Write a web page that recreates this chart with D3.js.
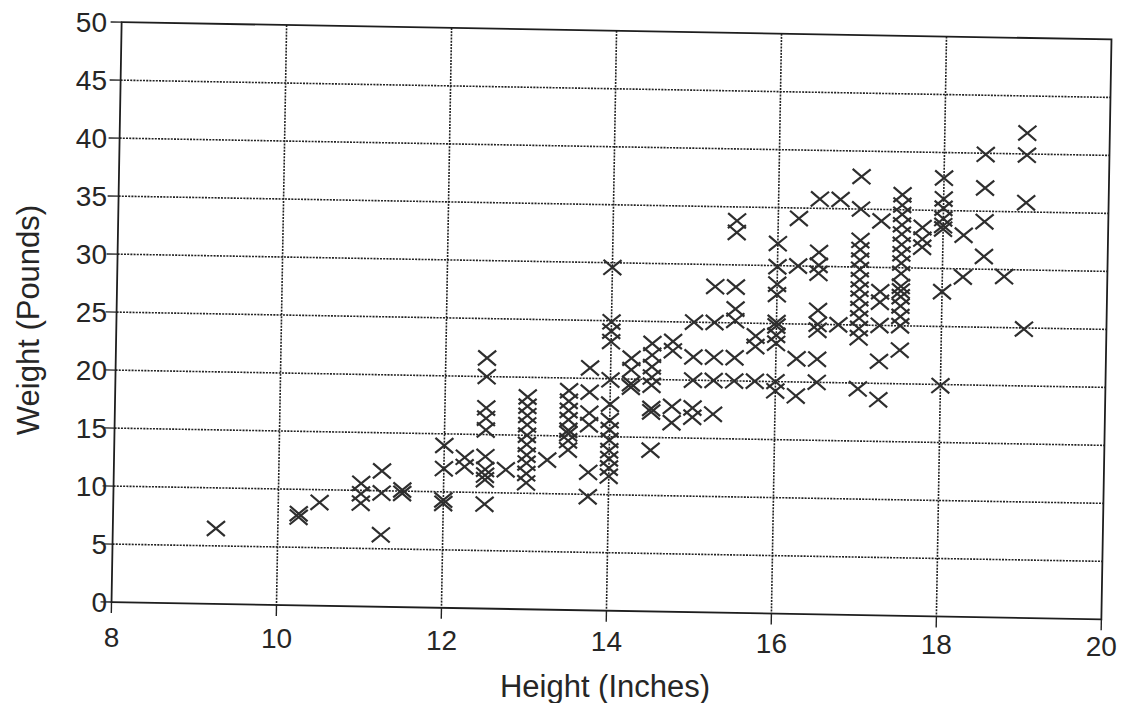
<!DOCTYPE html>
<html>
<head>
<meta charset="utf-8">
<script src="https://cdn.jsdelivr.net/npm/d3@7"></script>
<style>
  body { margin: 0; background: #fff; }
  text { font-family: "Liberation Sans", Arial, sans-serif; fill: #262626; }
</style>
</head>
<body>
<svg id="chart" width="1125" height="703"></svg>
<script>
// heights (inches) and the weights (pounds) read at each height
var heightCols = [9.25, 10.25, 10.5, 11.0, 11.25, 11.5, 12.0, 12.25, 12.5, 12.75,
    13.0, 13.25, 13.5, 13.75, 14.0, 14.25, 14.5, 14.75, 15.0, 15.25,
    15.5, 15.75, 16.0, 16.25, 16.5, 16.75, 17.0, 17.25, 17.5, 17.75,
    18.0, 18.25, 18.5, 18.75, 19.0];
var weightCols = [
    [6.5],
    [7.6, 7.9],
    [8.9],
    [10.6, 9.7, 8.9],
    [11.7, 9.8, 6.2],
    [9.8, 10.1],
    [14.0, 12.0, 9.0, 9.3],
    [13.0, 12.2],
    [21.6, 20.0, 17.3, 16.4, 15.4, 13.1, 12.0, 11.5, 11.1, 9.0],
    [12.0],
    [18.3, 17.5, 16.7, 15.9, 15.0, 14.2, 13.3, 12.6, 11.7, 10.9],
    [12.9],
    [18.9, 18.0, 17.2, 16.4, 15.5, 15.2, 14.6, 13.8],
    [20.9, 18.8, 17.0, 16.0, 11.9, 9.8],
    [29.6, 24.9, 24.1, 23.2, 19.9, 17.8, 16.4, 15.6, 14.7, 13.8, 13.1, 12.3, 11.6],
    [21.8, 20.8, 19.6, 19.3],
    [23.1, 22.1, 21.1, 20.2, 19.5, 17.5, 17.2, 13.9],
    [23.3, 22.5, 17.7, 16.3],
    [25.0, 22.0, 20.0, 17.6, 16.8],
    [28.1, 25.0, 22.0, 20.0, 17.1],
    [33.8, 32.8, 28.1, 26.2, 25.2, 22.0, 20.0],
    [23.9, 23.0, 20.0],
    [31.9, 29.9, 28.4, 27.5, 25.1, 24.8, 24.0, 23.3, 20.0, 19.2],
    [34.1, 30.0, 22.0, 18.8],
    [35.8, 31.2, 30.1, 29.4, 26.2, 25.0, 24.5, 22.0, 20.0],
    [35.8, 25.0],
    [37.8, 35.0, 32.3, 31.5, 30.6, 29.8, 28.9, 28.1, 27.3, 26.4, 25.6, 24.7, 23.9, 19.5],
    [34.0, 27.9, 27.0, 25.0, 21.9, 18.6],
    [36.3, 35.4, 34.6, 33.7, 32.9, 32.0, 31.2, 30.4, 29.5, 28.4, 28.0, 27.5, 26.7, 25.8, 25.0, 22.9],
    [33.5, 32.5, 31.8],
    [37.8, 36.0, 35.2, 34.3, 33.7, 33.4, 28.0, 19.9],
    [32.9, 29.3],
    [39.9, 37.0, 34.1, 31.1],
    [29.4],
    [41.8, 39.9, 35.8, 24.9]
];
var xTicks = [8, 10, 12, 14, 16, 18, 20];
var yTicks = [0, 5, 10, 15, 20, 25, 30, 35, 40, 45, 50];

var points = d3.merge(heightCols.map(function (h, i) {
    return weightCols[i].map(function (w) { return { h: h, w: w }; });
}));

// plot box (before the scan tilt)
var W = 990, H = 580;
var cx = 611.5, cy = 320.75;
var left = cx - W / 2, top_ = cy - H / 2, bottom = top_ + H;
var tilt = 1.0; // the scanned page is turned about one degree

var x = d3.scaleLinear().domain([8, 20]).range([left, left + W]);
var y = d3.scaleLinear().domain([0, 50]).range([bottom, top_]);

function rot(p) {
    var a = tilt * Math.PI / 180;
    var dx = p[0] - cx, dy = p[1] - cy;
    return [cx + dx * Math.cos(a) - dy * Math.sin(a),
            cy + dx * Math.sin(a) + dy * Math.cos(a)];
}

var svg = d3.select("#chart");
svg.append("rect").attr("width", 1125).attr("height", 703).attr("fill", "#fff");

var plot = svg.append("g")
    .attr("transform", "rotate(" + tilt + "," + cx + "," + cy + ")");

// dotted grid
plot.selectAll(".vgrid")
    .data(xTicks.slice(1, -1))
    .enter().append("line")
    .attr("class", "vgrid")
    .attr("x1", function (d) { return x(d); })
    .attr("x2", function (d) { return x(d); })
    .attr("y1", top_).attr("y2", bottom)
    .attr("stroke", "#222").attr("stroke-width", 1.6)
    .attr("stroke-dasharray", "2,1.2");

plot.selectAll(".hgrid")
    .data(yTicks.slice(1, -1))
    .enter().append("line")
    .attr("class", "hgrid")
    .attr("y1", function (d) { return y(d); })
    .attr("y2", function (d) { return y(d); })
    .attr("x1", left).attr("x2", left + W)
    .attr("stroke", "#222").attr("stroke-width", 1.6)
    .attr("stroke-dasharray", "2,1.2");

// frame
plot.append("rect")
    .attr("x", left).attr("y", top_)
    .attr("width", W).attr("height", H)
    .attr("fill", "none").attr("stroke", "#1e1e1e").attr("stroke-width", 1.8);

// tick marks
plot.selectAll(".ytick")
    .data(yTicks)
    .enter().append("line")
    .attr("x1", left - 11).attr("x2", left)
    .attr("y1", function (d) { return y(d); })
    .attr("y2", function (d) { return y(d); })
    .attr("stroke", "#222").attr("stroke-width", 1.4);

plot.selectAll(".xtick")
    .data(xTicks)
    .enter().append("line")
    .attr("x1", function (d) { return x(d); })
    .attr("x2", function (d) { return x(d); })
    .attr("y1", bottom).attr("y2", bottom + 11)
    .attr("stroke", "#222").attr("stroke-width", 1.4);

// the X markers
plot.selectAll(".pt")
    .data(points)
    .enter().append("path")
    .attr("class", "pt")
    .attr("transform", function (d) { return "translate(" + x(d.h) + "," + y(d.w) + ")"; })
    .attr("d", "M-9,-7.5L9,7.5M-9,7.5L9,-7.5")
    .attr("fill", "none")
    .attr("stroke", "#2e2e2e")
    .attr("stroke-width", 2.2);

// tick labels stay upright, placed at the tilted tick positions
svg.selectAll(".ylab")
    .data(yTicks)
    .enter().append("text")
    .attr("x", 107)
    .attr("y", function (d) { return rot([left - 11, y(d)])[1]; })
    .attr("dy", "0.36em")
    .attr("text-anchor", "end")
    .style("font-size", "28px")
    .text(function (d) { return d; });

svg.selectAll(".xlab")
    .data(xTicks)
    .enter().append("text")
    .attr("x", function (d) { return rot([x(d), bottom])[0]; })
    .attr("y", function (d) { return 647 + (rot([x(d), bottom])[1] - 602) * 0.5; })
    .attr("text-anchor", "middle")
    .style("font-size", "28px")
    .text(function (d) { return d; });

// axis titles
svg.append("text")
    .attr("x", 605).attr("y", 697)
    .attr("text-anchor", "middle")
    .style("font-size", "31px")
    .text("Height (Inches)");

svg.append("text")
    .attr("transform", "translate(39,320) rotate(-90)")
    .attr("text-anchor", "middle")
    .style("font-size", "31px")
    .text("Weight (Pounds)");
</script>
</body>
</html>
